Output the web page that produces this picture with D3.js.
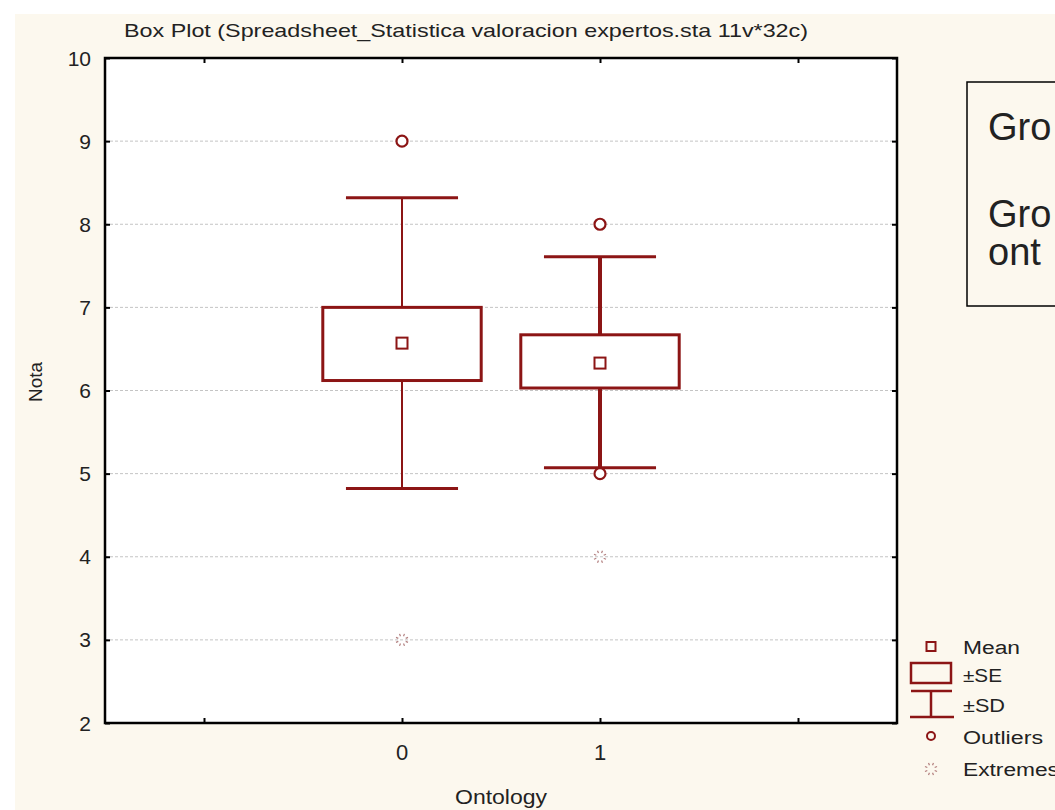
<!DOCTYPE html>
<html>
<head>
<meta charset="utf-8">
<script src="https://cdn.jsdelivr.net/npm/d3@7"></script>
<style>
  html, body { margin: 0; padding: 0; background: #ffffff; }
  svg { display: block; }
  text { font-family: "Liberation Sans", Arial, sans-serif; fill: #222; }
</style>
</head>
<body>
<script>
// ---------- data ----------
const categories = ["0", "1"];
const categoryPos = [0, 1];
const means   = [6.57, 6.33];
const seLow   = [6.12, 6.03];
const seHigh  = [7.00, 6.67];
const sdLow   = [4.82, 5.07];
const sdHigh  = [8.32, 7.61];
const outliers = [[9], [8, 5]];
const extremes = [[3], [4]];
const yTicks = [2, 3, 4, 5, 6, 7, 8, 9, 10];
const xTickPos = [-1, 0, 1, 2];
const legendLabels = ["Mean", "\u00B1SE", "\u00B1SD", "Outliers", "Extremes"];
const titleText = "Box Plot (Spreadsheet_Statistica valoracion expertos.sta 11v*32c)";
const yLabel = "Nota";
const xLabel = "Ontology";
const noteLines = ["Gro", "Gro", "ont"];

// ---------- layout ----------
const W = 1055, H = 810;
const red = "#8c1515";
const plot = { left: 105, right: 897, top: 58, bottom: 723 };

const svg = d3.select("body").append("svg").attr("width", W).attr("height", H);

// background panel
svg.append("rect").attr("x", 0).attr("y", 0).attr("width", W).attr("height", H).attr("fill", "#ffffff");
svg.append("rect").attr("x", 15).attr("y", 14).attr("width", W - 15).attr("height", H - 14).attr("fill", "#fcf8ee");
svg.append("rect").attr("x", plot.left).attr("y", plot.top)
  .attr("width", plot.right - plot.left).attr("height", plot.bottom - plot.top).attr("fill", "#ffffff");

const x = d3.scaleLinear().domain([-1.5, 2.5]).range([plot.left, plot.right]);
const y = d3.scaleLinear().domain([2, 10]).range([plot.bottom, plot.top]);

// gridlines
svg.append("g").selectAll("line").data(yTicks.filter(t => t > 2 && t < 10)).join("line")
  .attr("x1", plot.left).attr("x2", plot.right)
  .attr("y1", d => y(d)).attr("y2", d => y(d))
  .attr("stroke", "#c4c4c4").attr("stroke-width", 1).attr("stroke-dasharray", "3,2");

// axes (inward ticks)
const gL = svg.append("g").attr("transform", `translate(${plot.left},0)`)
  .call(d3.axisRight(y).tickValues(yTicks).tickSize(5).tickFormat(""));
const gR = svg.append("g").attr("transform", `translate(${plot.right},0)`)
  .call(d3.axisLeft(y).tickValues(yTicks).tickSize(5).tickFormat(""));
const gT = svg.append("g").attr("transform", `translate(0,${plot.top})`)
  .call(d3.axisBottom(x).tickValues(xTickPos).tickSize(5).tickFormat(""));
const gB = svg.append("g").attr("transform", `translate(0,${plot.bottom})`)
  .call(d3.axisTop(x).tickValues(xTickPos).tickSize(5).tickFormat(""));
[gL, gR, gT, gB].forEach(g => {
  g.select(".domain").remove();
  g.selectAll(".tick line").attr("stroke", "#000").attr("stroke-width", 2);
});

// frame
svg.append("rect").attr("x", plot.left).attr("y", plot.top)
  .attr("width", plot.right - plot.left).attr("height", plot.bottom - plot.top)
  .attr("fill", "none").attr("stroke", "#000").attr("stroke-width", 2.5);

// y tick labels
svg.append("g").selectAll("text").data(yTicks).join("text")
  .attr("x", 91).attr("y", d => y(d) + 7.5)
  .attr("text-anchor", "end").attr("font-size", 21)
  .text(d => d);

// x tick labels
svg.append("g").selectAll("text").data(categoryPos).join("text")
  .attr("x", d => x(d)).attr("y", 760)
  .attr("text-anchor", "middle").attr("font-size", 22)
  .text((d, i) => categories[i]);

// axis titles
svg.append("text").attr("x", 501).attr("y", 804).attr("text-anchor", "middle")
  .attr("font-size", 20).attr("textLength", 92).attr("lengthAdjust", "spacingAndGlyphs").text(xLabel);
svg.append("text").attr("transform", "translate(42,382) rotate(-90)").attr("text-anchor", "middle")
  .attr("font-size", 19).attr("textLength", 40).attr("lengthAdjust", "spacingAndGlyphs").text(yLabel);

// title
svg.append("text").attr("x", 124).attr("y", 37).attr("font-size", 19)
  .attr("textLength", 684).attr("lengthAdjust", "spacingAndGlyphs").text(titleText);

// ---------- boxes ----------
const boxHalf = 0.40, capHalf = 0.283;
const whiskerW = [2, 4];
categoryPos.forEach((c, i) => {
  const g = svg.append("g");
  // whisker verticals
  g.append("line").attr("x1", x(c)).attr("x2", x(c)).attr("y1", y(seHigh[i])).attr("y2", y(sdHigh[i]))
    .attr("stroke", red).attr("stroke-width", whiskerW[i]);
  g.append("line").attr("x1", x(c)).attr("x2", x(c)).attr("y1", y(seLow[i])).attr("y2", y(sdLow[i]))
    .attr("stroke", red).attr("stroke-width", whiskerW[i]);
  // caps
  [sdHigh[i], sdLow[i]].forEach(v => {
    g.append("line").attr("x1", x(c - capHalf)).attr("x2", x(c + capHalf))
      .attr("y1", y(v)).attr("y2", y(v)).attr("stroke", red).attr("stroke-width", 3);
  });
  // SE box
  g.append("rect").attr("x", x(c - boxHalf)).attr("y", y(seHigh[i]))
    .attr("width", x(c + boxHalf) - x(c - boxHalf)).attr("height", y(seLow[i]) - y(seHigh[i]))
    .attr("fill", "#fff").attr("stroke", red).attr("stroke-width", 3);
  // mean
  g.append("rect").attr("x", x(c) - 5.5).attr("y", y(means[i]) - 5.5).attr("width", 11).attr("height", 11)
    .attr("fill", "#fff").attr("stroke", red).attr("stroke-width", 2);
  // outliers
  outliers[i].forEach(v => {
    g.append("circle").attr("cx", x(c)).attr("cy", y(v)).attr("r", 5.5)
      .attr("fill", "#fff").attr("stroke", red).attr("stroke-width", 2.2);
  });
  // extremes
  extremes[i].forEach(v => drawExtreme(g, x(c), y(v)));
});

function drawExtreme(g, cx, cy) {
  const angles = d3.range(8).map(k => k * Math.PI / 4 + Math.PI / 8);
  g.append("g").selectAll("line").data(angles).join("line")
    .attr("x1", a => cx + Math.cos(a) * 4).attr("y1", a => cy + Math.sin(a) * 4)
    .attr("x2", a => cx + Math.cos(a) * 6.5).attr("y2", a => cy + Math.sin(a) * 6.5)
    .attr("stroke", "#a06060").attr("stroke-width", 1.2).attr("opacity", 0.8);
}

// ---------- legend ----------
const lg = svg.append("g");
const lx = 931;
lg.append("rect").attr("x", lx - 4.5).attr("y", 642).attr("width", 9).attr("height", 9)
  .attr("fill", "none").attr("stroke", red).attr("stroke-width", 2);
lg.append("rect").attr("x", 911).attr("y", 663).attr("width", 40).attr("height", 20)
  .attr("fill", "none").attr("stroke", red).attr("stroke-width", 2.5);
lg.append("line").attr("x1", 911).attr("x2", 952).attr("y1", 691).attr("y2", 691).attr("stroke", red).attr("stroke-width", 2.5);
lg.append("line").attr("x1", lx).attr("x2", lx).attr("y1", 691).attr("y2", 717).attr("stroke", red).attr("stroke-width", 2.5);
lg.append("line").attr("x1", 910).attr("x2", 954).attr("y1", 717).attr("y2", 717).attr("stroke", red).attr("stroke-width", 2.5);
lg.append("circle").attr("cx", lx).attr("cy", 736).attr("r", 4).attr("fill", "none").attr("stroke", red).attr("stroke-width", 2);
drawExtreme(lg, lx, 769);
const legendY = [654, 682, 712, 744, 776];
const legendLen = [57, 39, 42, 80, 96];
lg.selectAll("text.lt").data(legendLabels).join("text").attr("class", "lt")
  .attr("x", 963).attr("y", (d, i) => legendY[i]).attr("font-size", 18)
  .attr("textLength", (d, i) => legendLen[i]).attr("lengthAdjust", "spacingAndGlyphs")
  .text(d => d);

// ---------- overlay note box ----------
svg.append("rect").attr("x", 967).attr("y", 82).attr("width", 120).attr("height", 224)
  .attr("fill", "#fcf8ee").attr("stroke", "#000").attr("stroke-width", 1.5);
const noteY = [140, 227, 265];
svg.append("g").selectAll("text").data(noteLines).join("text")
  .attr("x", 988).attr("y", (d, i) => noteY[i]).attr("font-size", 38).attr("fill", "#111")
  .text(d => d);
</script>
</body>
</html>
